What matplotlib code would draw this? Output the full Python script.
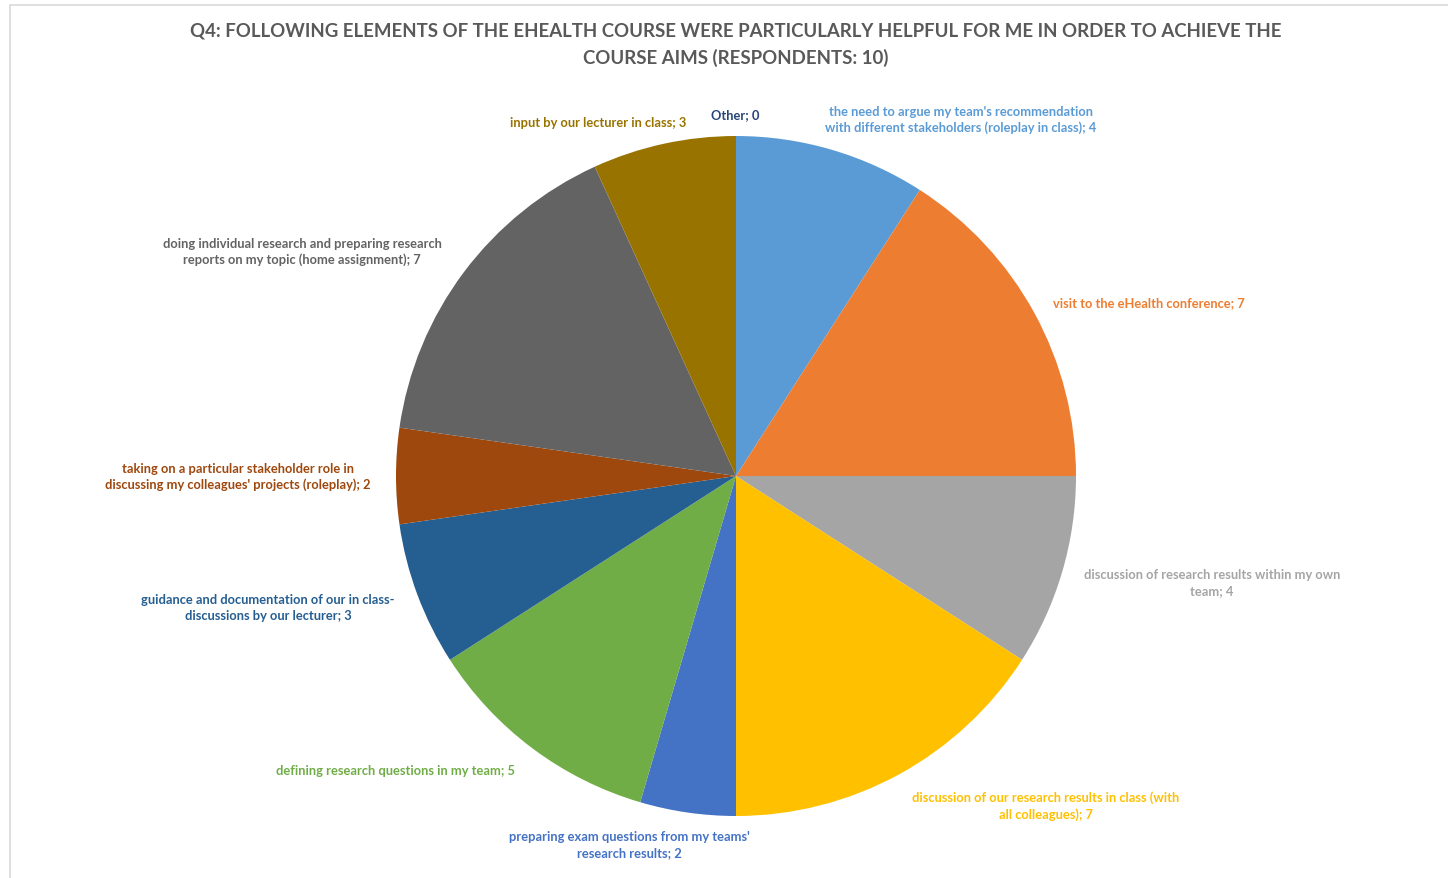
import matplotlib.pyplot as plt

# Survey answers (respondents: 10)
labels = [
    "the need to argue my team's recommendation\nwith different stakeholders (roleplay in class)",
    "visit to the eHealth conference",
    "discussion of research results within my own\nteam",
    "discussion of our research results in class (with\nall colleagues)",
    "preparing exam questions from my teams'\nresearch results",
    "defining research questions in my team",
    "guidance and documentation of our in class-\ndiscussions by our lecturer",
    "taking on a particular stakeholder role in\ndiscussing my colleagues' projects (roleplay)",
    "doing individual research and preparing research\nreports on my topic (home assignment)",
    "input by our lecturer in class",
    "Other",
]
counts = [4, 7, 4, 7, 2, 5, 3, 2, 7, 3, 0]

colors = ['#5B9BD5', '#ED7D31', '#A5A5A5', '#FFC000', '#4472C4', '#70AD47',
          '#255E91', '#9E480E', '#636363', '#997300', '#264478']

# label anchor positions in pixels (layout only)
label_pos = [(961, 120), (1149, 303), (1212, 583), (1046, 806), (629, 845),
             (395, 771), (268, 608), (238, 477), (302, 252), (598, 123), (735, 115)]

W, H = 1448, 879
plt.rcParams['font.family'] = ['Lato', 'DejaVu Sans']

fig = plt.figure(figsize=(W / 100, H / 100), dpi=100)
ax = fig.add_axes([0, 0, 1, 1])

# chart frame
ax.plot([10, 10, W], [0, H - 6, H - 6], color='#D9D9D9', lw=1.2)

ax.pie(counts, colors=colors, startangle=90, counterclock=False,
       center=(736, H - 477), radius=340, frame=True,
       wedgeprops=dict(linewidth=0))
ax.set_xlim(0, W)
ax.set_ylim(0, H)
ax.axis('off')

for lab, n, c, (px, py) in zip(labels, counts, colors, label_pos):
    ax.text(px, H - py, f"{lab}; {n}", color=c, fontsize=9.3, fontweight='bold',
            ha='center', va='center', linespacing=1.35)

ax.text(736, H - 45, "Q4: FOLLOWING ELEMENTS OF THE EHEALTH COURSE WERE PARTICULARLY HELPFUL FOR ME IN ORDER TO ACHIEVE THE\nCOURSE AIMS (RESPONDENTS: 10)",
        color='#595959', fontsize=13.4, fontweight='bold', ha='center', va='center',
        linespacing=1.6)

fig.savefig('out.png', dpi=100)
